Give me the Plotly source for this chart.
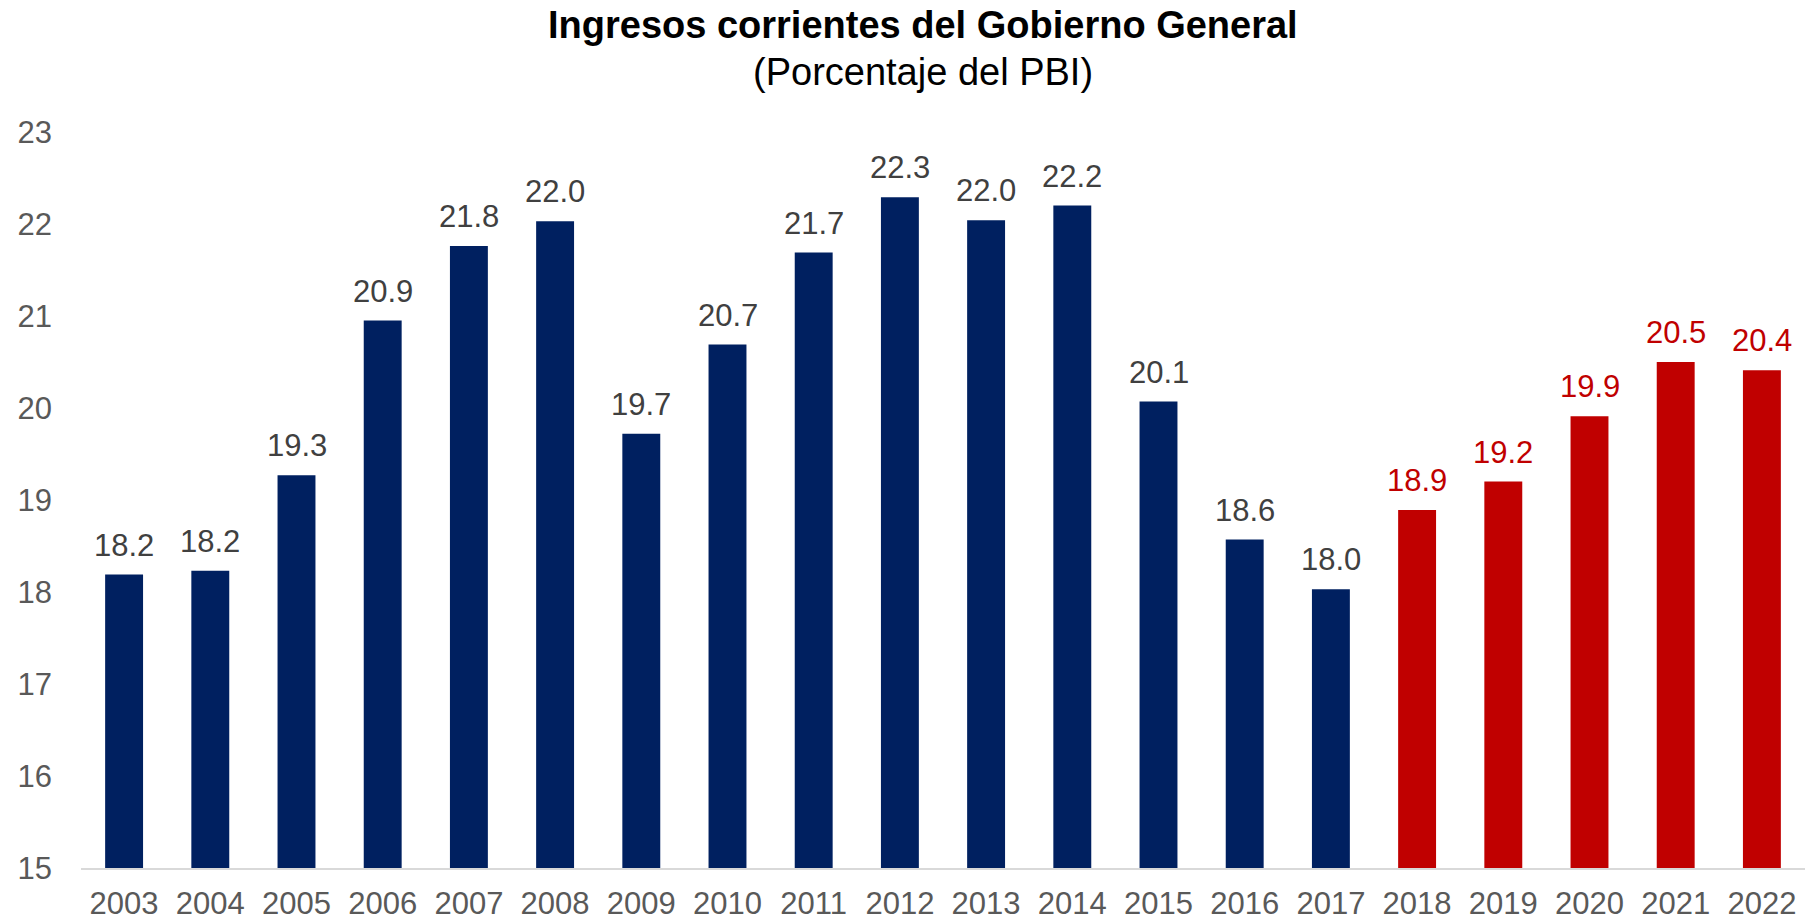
import plotly.graph_objects as go

years = [str(y) for y in range(2003, 2023)]
values = [18.19, 18.23, 19.27, 20.95, 21.76, 22.03, 19.72, 20.69, 21.69, 22.29,
          22.04, 22.20, 20.07, 18.57, 18.03, 18.89, 19.20, 19.91, 20.50, 20.41]
projected = [False] * 15 + [True] * 5

NAVY = "#002060"
RED = "#C00000"
bar_colors = [RED if p else NAVY for p in projected]
label_colors = [RED if p else "#404040" for p in projected]

FONT = "Liberation Sans, Arial, sans-serif"

fig = go.Figure()
fig.add_trace(go.Bar(
    x=years, y=values,
    marker=dict(color=bar_colors, line=dict(width=0)),
    hoverinfo="x+y",
))

annotations = []
for i, (v, c) in enumerate(zip(values, label_colors)):
    annotations.append(dict(
        x=i, y=v, xref="x", yref="y", text=f"{v:.1f}",
        showarrow=False, yanchor="bottom", yshift=10,
        font=dict(family=FONT, size=31, color=c),
    ))

L, R, T, B = 81, 4, 132, 54
W, H = 1809, 922
pw, ph = W - L - R, H - T - B
cx = (923 - L) / pw
annotations.append(dict(
    xref="paper", yref="paper", x=cx, y=1 + (T - 25) / ph,
    text="<b>Ingresos corrientes del Gobierno General</b>",
    showarrow=False, xanchor="center", yanchor="middle",
    font=dict(family=FONT, size=38, color="#000000"),
))
annotations.append(dict(
    xref="paper", yref="paper", x=cx, y=1 + (T - 72) / ph,
    text="(Porcentaje del PBI)",
    showarrow=False, xanchor="center", yanchor="middle",
    font=dict(family=FONT, size=38, color="#000000"),
))

fig.update_layout(
    width=W, height=H,
    margin=dict(l=L, r=R, t=T, b=B, pad=0, autoexpand=False),
    paper_bgcolor="white", plot_bgcolor="white",
    bargap=0.56,
    showlegend=False,
    annotations=annotations,
    font=dict(family=FONT, size=31, color="#595959"),
)
fig.update_xaxes(
    type="category", range=[-0.5, len(years) - 0.5], automargin=False,
    showline=True, linecolor="#D9D9D9", linewidth=2,
    showgrid=False, ticks="", tickfont=dict(family=FONT, size=31, color="#595959"),
    ticklabelstandoff=7,
)
fig.update_yaxes(
    range=[15, 23], dtick=1, automargin=False,
    showgrid=False, zeroline=False, showline=False,
    ticks="", tickfont=dict(family=FONT, size=31, color="#595959"),
    ticklabelstandoff=28,
)

fig.write_html(
    "out.html",
    config={"displayModeBar": False},
    post_script="document.body.style.margin='0';document.body.style.overflow='hidden';",
)
